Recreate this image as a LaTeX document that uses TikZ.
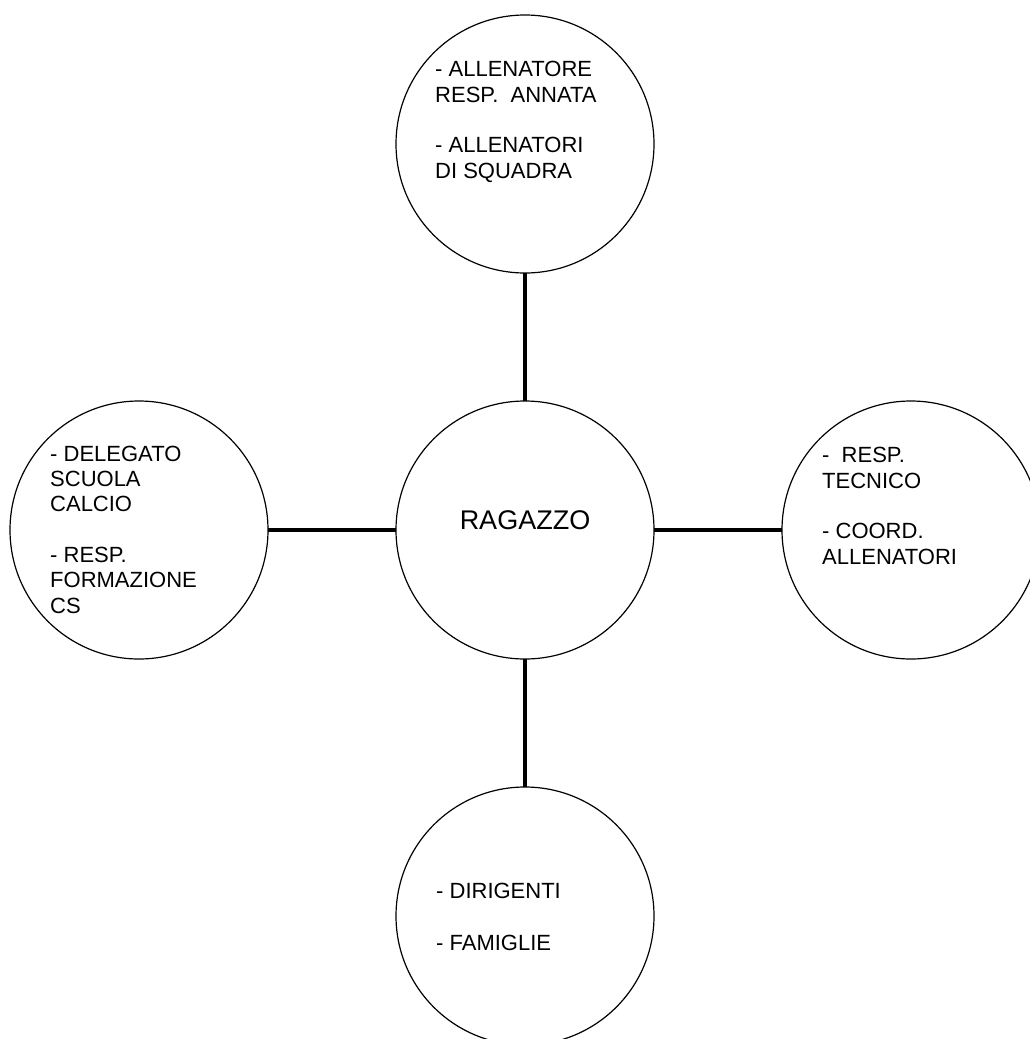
\documentclass[tikz,border=0pt]{standalone}
\usepackage{fontspec}
\setmainfont{Liberation Sans}
\begin{document}
\begin{tikzpicture}[x=1pt,y=-1pt,
  bubble/.style={circle,draw=black,line width=1.2pt,minimum size=258pt,inner sep=0pt,outer sep=0pt},
  conn/.style={line width=4.5pt,draw=black},
  txt/.style={anchor=base west,align=left,inner sep=0pt,font=\fontsize{22}{25.3}\selectfont},
  ctxt/.style={anchor=base,inner sep=0pt,font=\fontsize{27}{32}\selectfont}]
\path[use as bounding box,fill=white] (0,0) rectangle (1030,1039);
\begin{scope}
\clip (0,0) rectangle (1030,1039);
\node[bubble] (top) at (525,144) {};
\node[bubble] (mid) at (525,530) {};
\node[bubble] (lft) at (139,530) {};
\node[bubble] (rgt) at (911,530) {};
\node[bubble] (bot) at (525,916) {};
\draw[conn] (top) -- (mid);
\draw[conn] (lft) -- (mid);
\draw[conn] (mid) -- (rgt);
\draw[conn] (mid) -- (bot);
\node[ctxt] (tmid) at (525,529) {RAGAZZO};
% anchor = baseline of the last line
\node[txt] (ttop) at (435,178) {- ALLENATORE\\RESP.\ \ ANNATA\\[25.3pt]- ALLENATORI\\DI SQUADRA};
\node[txt] (tlft) at (50,613) {- DELEGATO\\SCUOLA\\CALCIO\\[25.3pt]- RESP.\\FORMAZIONE\\CS};
\node[txt] (trgt) at (822,564) {-\ \ RESP.\\TECNICO\\[25.3pt]- COORD.\\ALLENATORI};
\node[txt] (tbot) at (436,950) {- DIRIGENTI\\[26.7pt]- FAMIGLIE};
\end{scope}
\end{tikzpicture}
\end{document}
